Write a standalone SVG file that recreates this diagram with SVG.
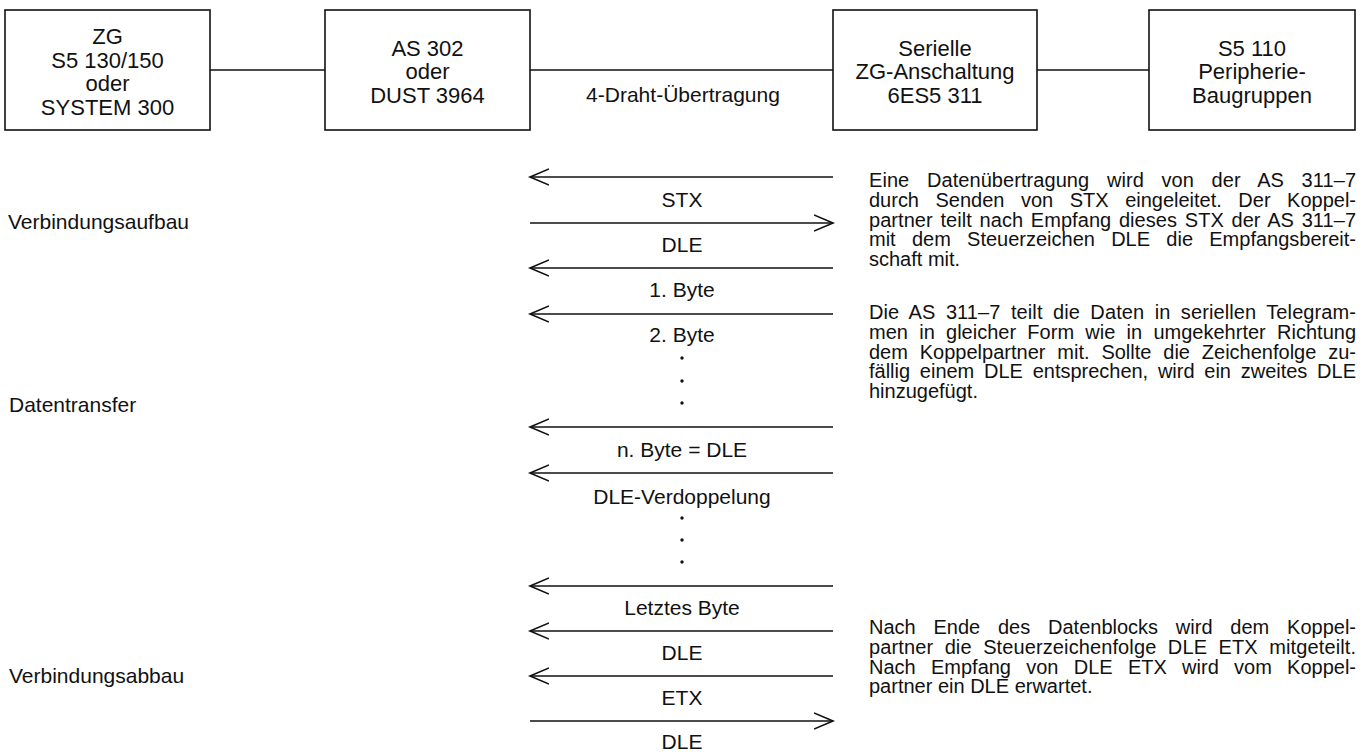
<svg xmlns="http://www.w3.org/2000/svg" width="1367" height="752" viewBox="0 0 1367 752">
<style>
.t{font-family:"Liberation Sans",Arial,Helvetica,sans-serif;font-size:21px;fill:#111}
.c{text-anchor:middle}
.b{font-size:22px}
.p{font-size:20px}
.box{fill:#fff;stroke:#111;stroke-width:1.6}
.ln{stroke:#111;stroke-width:1.6;fill:none}
.ar{stroke:#111;stroke-width:1.6;fill:none;marker-end:url(#ah)}
.dot{fill:#111}
</style>
<defs>
<marker id="ah" markerUnits="userSpaceOnUse" markerWidth="22" markerHeight="20" refX="19" refY="9" orient="auto">
<path d="M0,1 L19,9 L0,17" fill="none" stroke="#111" stroke-width="1.6"/>
</marker>
</defs>
<rect width="1367" height="752" fill="#fff"/>

<g id="connectors">
<line class="ln" x1="210" y1="70" x2="325" y2="70"/>
<line class="ln" x1="530" y1="70" x2="833" y2="70"/>
<line class="ln" x1="1037" y1="70" x2="1149" y2="70"/>
<line class="ar" x1="833" y1="177" x2="530" y2="177"/>
<line class="ar" x1="530" y1="223" x2="833" y2="223"/>
<line class="ar" x1="833" y1="268" x2="530" y2="268"/>
<line class="ar" x1="833" y1="314" x2="530" y2="314"/>
<line class="ar" x1="833" y1="427" x2="530" y2="427"/>
<line class="ar" x1="833" y1="473" x2="530" y2="473"/>
<line class="ar" x1="833" y1="586" x2="530" y2="586"/>
<line class="ar" x1="833" y1="631" x2="530" y2="631"/>
<line class="ar" x1="833" y1="676" x2="530" y2="676"/>
<line class="ar" x1="530" y1="721" x2="833" y2="721"/>
</g>

<g id="node-zg">
<rect class="box" x="5" y="10" width="205" height="120"/>
<text class="t b c" x="107.5" y="44">ZG</text>
<text class="t b c" x="107.5" y="67.5">S5 130/150</text>
<text class="t b c" x="107.5" y="91">oder</text>
<text class="t b c" x="107.5" y="114.5">SYSTEM 300</text>
</g>
<g id="node-as302">
<rect class="box" x="325" y="10" width="205" height="120"/>
<text class="t b c" x="427.5" y="55.5">AS 302</text>
<text class="t b c" x="427.5" y="79">oder</text>
<text class="t b c" x="427.5" y="102.5">DUST 3964</text>
</g>
<g id="node-serielle">
<rect class="box" x="833" y="10" width="204" height="120"/>
<text class="t b c" x="935" y="55.5">Serielle</text>
<text class="t b c" x="935" y="79">ZG-Anschaltung</text>
<text class="t b c" x="935" y="102.5">6ES5 311</text>
</g>
<g id="node-s5110">
<rect class="box" x="1149" y="10" width="206" height="120"/>
<text class="t b c" x="1252" y="55.5">S5 110</text>
<text class="t b c" x="1252" y="79">Peripherie-</text>
<text class="t b c" x="1252" y="102.5">Baugruppen</text>
</g>

<g id="link-label">
<text class="t c" x="683" y="102">4-Draht-Übertragung</text>
</g>

<g id="arrow-labels">
<text class="t c" x="682" y="207">STX</text>
<text class="t c" x="682" y="252">DLE</text>
<text class="t c" x="682" y="297">1. Byte</text>
<text class="t c" x="682" y="342">2. Byte</text>
<circle class="dot" cx="682" cy="358" r="1.7"/>
<circle class="dot" cx="682" cy="381" r="1.7"/>
<circle class="dot" cx="682" cy="403" r="1.7"/>
<text class="t c" x="682" y="457">n. Byte = DLE</text>
<text class="t c" x="682" y="504">DLE-Verdoppelung</text>
<circle class="dot" cx="682" cy="518" r="1.7"/>
<circle class="dot" cx="682" cy="540" r="1.7"/>
<circle class="dot" cx="682" cy="562" r="1.7"/>
<text class="t c" x="682" y="615">Letztes Byte</text>
<text class="t c" x="682" y="660">DLE</text>
<text class="t c" x="682" y="705">ETX</text>
<text class="t c" x="682" y="749">DLE</text>
</g>

<g id="phase-labels">
<text class="t" x="8" y="229">Verbindungsaufbau</text>
<text class="t" x="9" y="412">Datentransfer</text>
<text class="t" x="9" y="683">Verbindungsabbau</text>
</g>

<g id="desc-1">
<text class="t p" x="869" y="187" word-spacing="12" textLength="487" lengthAdjust="spacing">Eine Datenübertragung wird von der AS 311–7</text>
<text class="t p" x="869" y="206.75" word-spacing="11" textLength="487" lengthAdjust="spacing">durch Senden von STX eingeleitet. Der Koppel-</text>
<text class="t p" x="869" y="226.5" word-spacing="2.1" textLength="487" lengthAdjust="spacing">partner teilt nach Empfang dieses STX der AS 311–7</text>
<text class="t p" x="869" y="246.25" word-spacing="10.7" textLength="487" lengthAdjust="spacing">mit dem Steuerzeichen DLE die Empfangsbereit-</text>
<text class="t p" x="869" y="266">schaft mit.</text>
</g>
<g id="desc-2">
<text class="t p" x="869" y="319" word-spacing="4.75" textLength="487" lengthAdjust="spacing">Die AS 311–7 teilt die Daten in seriellen Telegram-</text>
<text class="t p" x="869" y="338.75" word-spacing="5.7" textLength="487" lengthAdjust="spacing">men in gleicher Form wie in umgekehrter Richtung</text>
<text class="t p" x="869" y="358.5" word-spacing="6.3" textLength="487" lengthAdjust="spacing">dem Koppelpartner mit. Sollte die Zeichenfolge zu-</text>
<text class="t p" x="869" y="378.25" word-spacing="4.2" textLength="487" lengthAdjust="spacing">fällig einem DLE entsprechen, wird ein zweites DLE</text>
<text class="t p" x="869" y="398">hinzugefügt.</text>
</g>
<g id="desc-3">
<text class="t p" x="869" y="634" word-spacing="12.25" textLength="487" lengthAdjust="spacing">Nach Ende des Datenblocks wird dem Koppel-</text>
<text class="t p" x="869" y="653.75" word-spacing="5.8" textLength="487" lengthAdjust="spacing">partner die Steuerzeichenfolge DLE ETX mitgeteilt.</text>
<text class="t p" x="869" y="673.5" word-spacing="9.7" textLength="487" lengthAdjust="spacing">Nach Empfang von DLE ETX wird vom Koppel-</text>
<text class="t p" x="869" y="693.25">partner ein DLE erwartet.</text>
</g>
</svg>
